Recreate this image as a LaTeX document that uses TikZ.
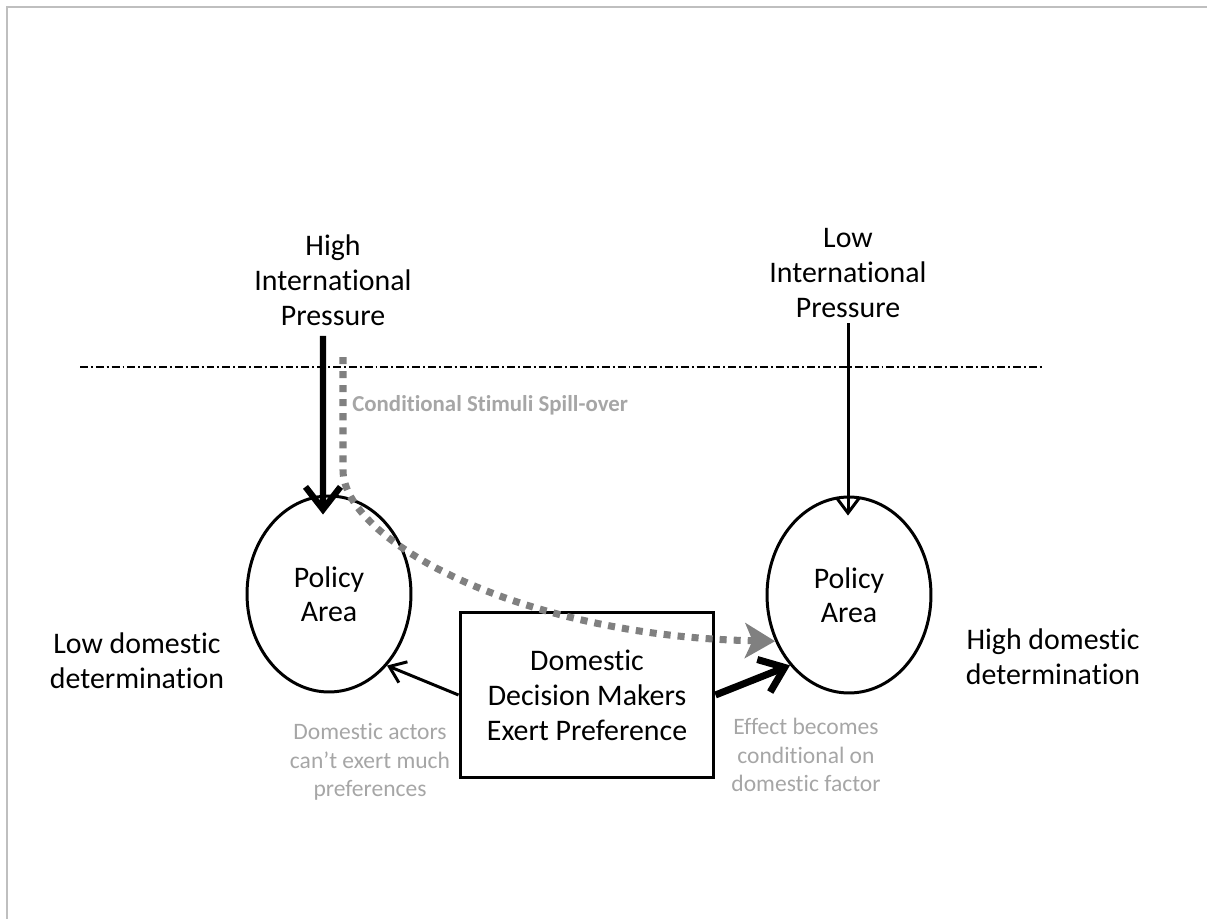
\documentclass[tikz,border=0pt]{standalone}
\usepackage{fontspec}
\setmainfont{Carlito}[Ligatures=NoCommon]
\usetikzlibrary{shapes, arrows.meta}
\definecolor{framegray}{RGB}{191,191,191}
\definecolor{spillgray}{RGB}{128,128,128}
\definecolor{notegray}{RGB}{166,166,166}
\tikzstyle{bigtext} = [align=center, inner sep=0pt, font=\fontsize{17}{20}\selectfont]
\tikzstyle{note} = [align=center, inner sep=0pt, text=notegray, font=\fontsize{13.4}{16.2}\selectfont]
\tikzstyle{policy} = [draw, ellipse, line width=1.7pt, minimum width=3.28cm, minimum height=3.92cm, inner sep=0pt, align=center, font=\fontsize{17}{19.5}\selectfont]
\tikzstyle{block} = [draw, fill=white, rectangle, line width=1.7pt, minimum width=5.08cm, minimum height=3.32cm, align=center, font=\fontsize{17}{20}\selectfont]
\tikzstyle{thinarrow} = [line width=1.7pt, -{Straight Barb[length=0.3cm,width=0.45cm]}]
\tikzstyle{thickarrow} = [line width=3.6pt, -{Straight Barb[length=0.45cm,width=0.7cm]}]
\tikzstyle{spillarrow} = [line width=4pt, spillgray, dash pattern=on 4pt off 4pt, -{Stealth[length=0.6cm,width=0.7cm,inset=0.15cm]}]

\begin{document}
\begin{tikzpicture}[x=0.02cm, y=-0.02cm]
    \useasboundingbox (0,0) rectangle (1207,919);
    \draw [framegray, line width=1.2pt] (7,919) -- (7,7) -- (1207,7);

    \node [bigtext] (hip) at (333,280) {High\\International\\Pressure};
    \node [bigtext] (lip) at (848,273) {Low\\International\\Pressure};
    \node [policy] (lpa) at (329,594) {Policy\\Area};
    \node [policy] (hpa) at (849,595) {Policy\\Area};
    \node [block] (ddm) at (587,695) {Domestic\\Decision Makers\\Exert Preference};
    \node [bigtext] (ldd) at (137,661) {Low domestic\\determination};
    \node [bigtext] (hdd) at (1053,657) {High domestic\\determination};
    \node [note] (lnote) at (370,762) {Domestic actors\\can’t exert much\\preferences};
    \node [note] (hnote) at (806,755) {Effect becomes\\conditional on\\domestic factor};
    \node [anchor=west, inner sep=0pt, text=notegray, font=\fontsize{13}{15}\selectfont\bfseries] (spill) at (352,405) {Conditional Stimuli Spill-over};

    \coordinate (ddl) at (80,367);
    \coordinate (ddr) at (1042,367);
    \coordinate (spillstart) at (343,357);
    \draw [line width=0.85pt, dash pattern=on 4.5pt off 1.7pt on 1.1pt off 1.7pt] (ddl) -- (ddr);

    \draw [thickarrow] ([shift={(-10,10)}]hip.south) -- ([xshift=-0.12cm]lpa.north) [shorten >=-0.4cm];
    \draw [thinarrow, shorten >=-0.4cm] ([yshift=-0.1cm]lip.south) -- (lip.south |- hpa.north);
    \draw [thinarrow] (ddm.west) -- (lpa.-51);
    \draw [thickarrow, line width=4pt] (ddm.east) -- (hpa.-130);
    \draw [spillarrow] (spillstart) -- ++(0,113) .. controls +(0,70) and +(-256,-5) .. (hpa.-148);
\end{tikzpicture}
\end{document}
